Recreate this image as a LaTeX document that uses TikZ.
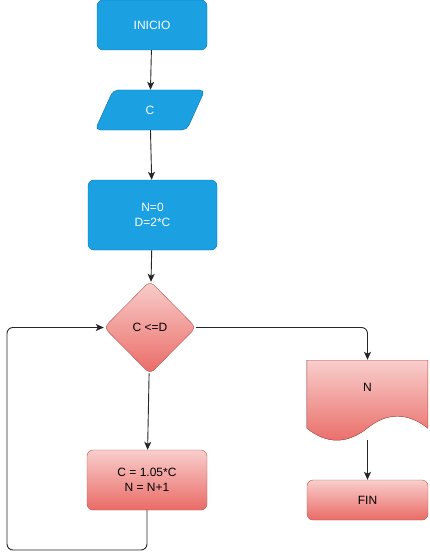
\documentclass[tikz,border=0pt]{standalone}
\usepackage{fontspec}
\setmainfont{Liberation Sans}
\usetikzlibrary{arrows.meta, shapes, positioning}
\definecolor{bluefill}{HTML}{1BA1E2}
\definecolor{blueline}{HTML}{006EAF}
\definecolor{redtop}{HTML}{F8CECC}
\definecolor{redbot}{HTML}{EA6B66}
\definecolor{redline}{HTML}{B85450}
\tikzset{
  bluebox/.style = {
    draw=blueline, fill=bluefill, text=white, rounded corners=6pt,
    align=center, font=\fontsize{12}{15}\selectfont
  },
  redbox/.style = {
    draw=redline, top color=redtop, bottom color=redbot, text=black,
    rounded corners=6pt, align=center, font=\fontsize{12}{15}\selectfont
  },
  flow/.style = {
    -{Stealth[length=8pt, width=7pt, inset=2pt]}, line width=0.9pt, draw=black!85
  }
}

\begin{document}
\begin{tikzpicture}[x=1pt, y=-1pt]
  \useasboundingbox (0,0) rectangle (429,559);

  % Start
  \node[bluebox, minimum width=110pt, minimum height=50pt] (start) at (152,25) {INICIO};

  % Input C
  \node[bluebox, trapezium, trapezium left angle=76, trapezium right angle=104,
        trapezium stretches=true, minimum width=110pt, minimum height=40pt,
        rounded corners=5pt] (inp) at (150,110) {C};

  % Init N and D
  \node[bluebox, minimum width=129pt, minimum height=70pt] (init) at (152.5,215) {N=0\\D=2*C};

  % Condition
  \node[redbox, diamond, aspect=1, minimum width=92pt, minimum height=93pt,
        inner sep=0pt, rounded corners=5pt] (cond) at (150,327.5) {C <=D};

  % Update
  \node[redbox, minimum width=120pt, minimum height=60pt] (upd) at (147,480) {C = 1.05*C\\N = N+1};

  % Output N (document)
  \node[minimum width=121pt, minimum height=80pt, inner sep=0pt,
        font=\fontsize{12}{15}\selectfont] (out) at (367.5,400) {};
  \begin{scope}[shift={(out.south west)}]
    \filldraw[draw=redline, top color=redtop, bottom color=redbot]
      (0,-80) -- (121,-80) -- (121,-12)
      .. controls (101,-28) and (80,-28) .. (60.5,-12)
      .. controls (40,4) and (20,4) .. (0,-12) -- cycle;
  \end{scope}
  \node[font=\fontsize{12}{15}\selectfont] (outtext) at (367.5,387) {N};

  % End
  \node[redbox, minimum width=121pt, minimum height=40pt] (fin) at (367.5,500) {FIN};

  % Connectors
  \draw[flow] (start) -- (inp);
  \draw[flow] (inp) -- (init);
  \draw[flow] (init) -- (cond);
  \draw[flow] (cond) -- (upd);
  \draw[flow] (out) -- (fin);
  \draw[flow, rounded corners=6pt] (cond.east) -| (out.north);

  % Loop back
  \coordinate (loopcorner) at (7,550);
  \draw[flow, rounded corners=6pt] (upd.south) |- (loopcorner) |- (cond.west);

\end{tikzpicture}
\end{document}
